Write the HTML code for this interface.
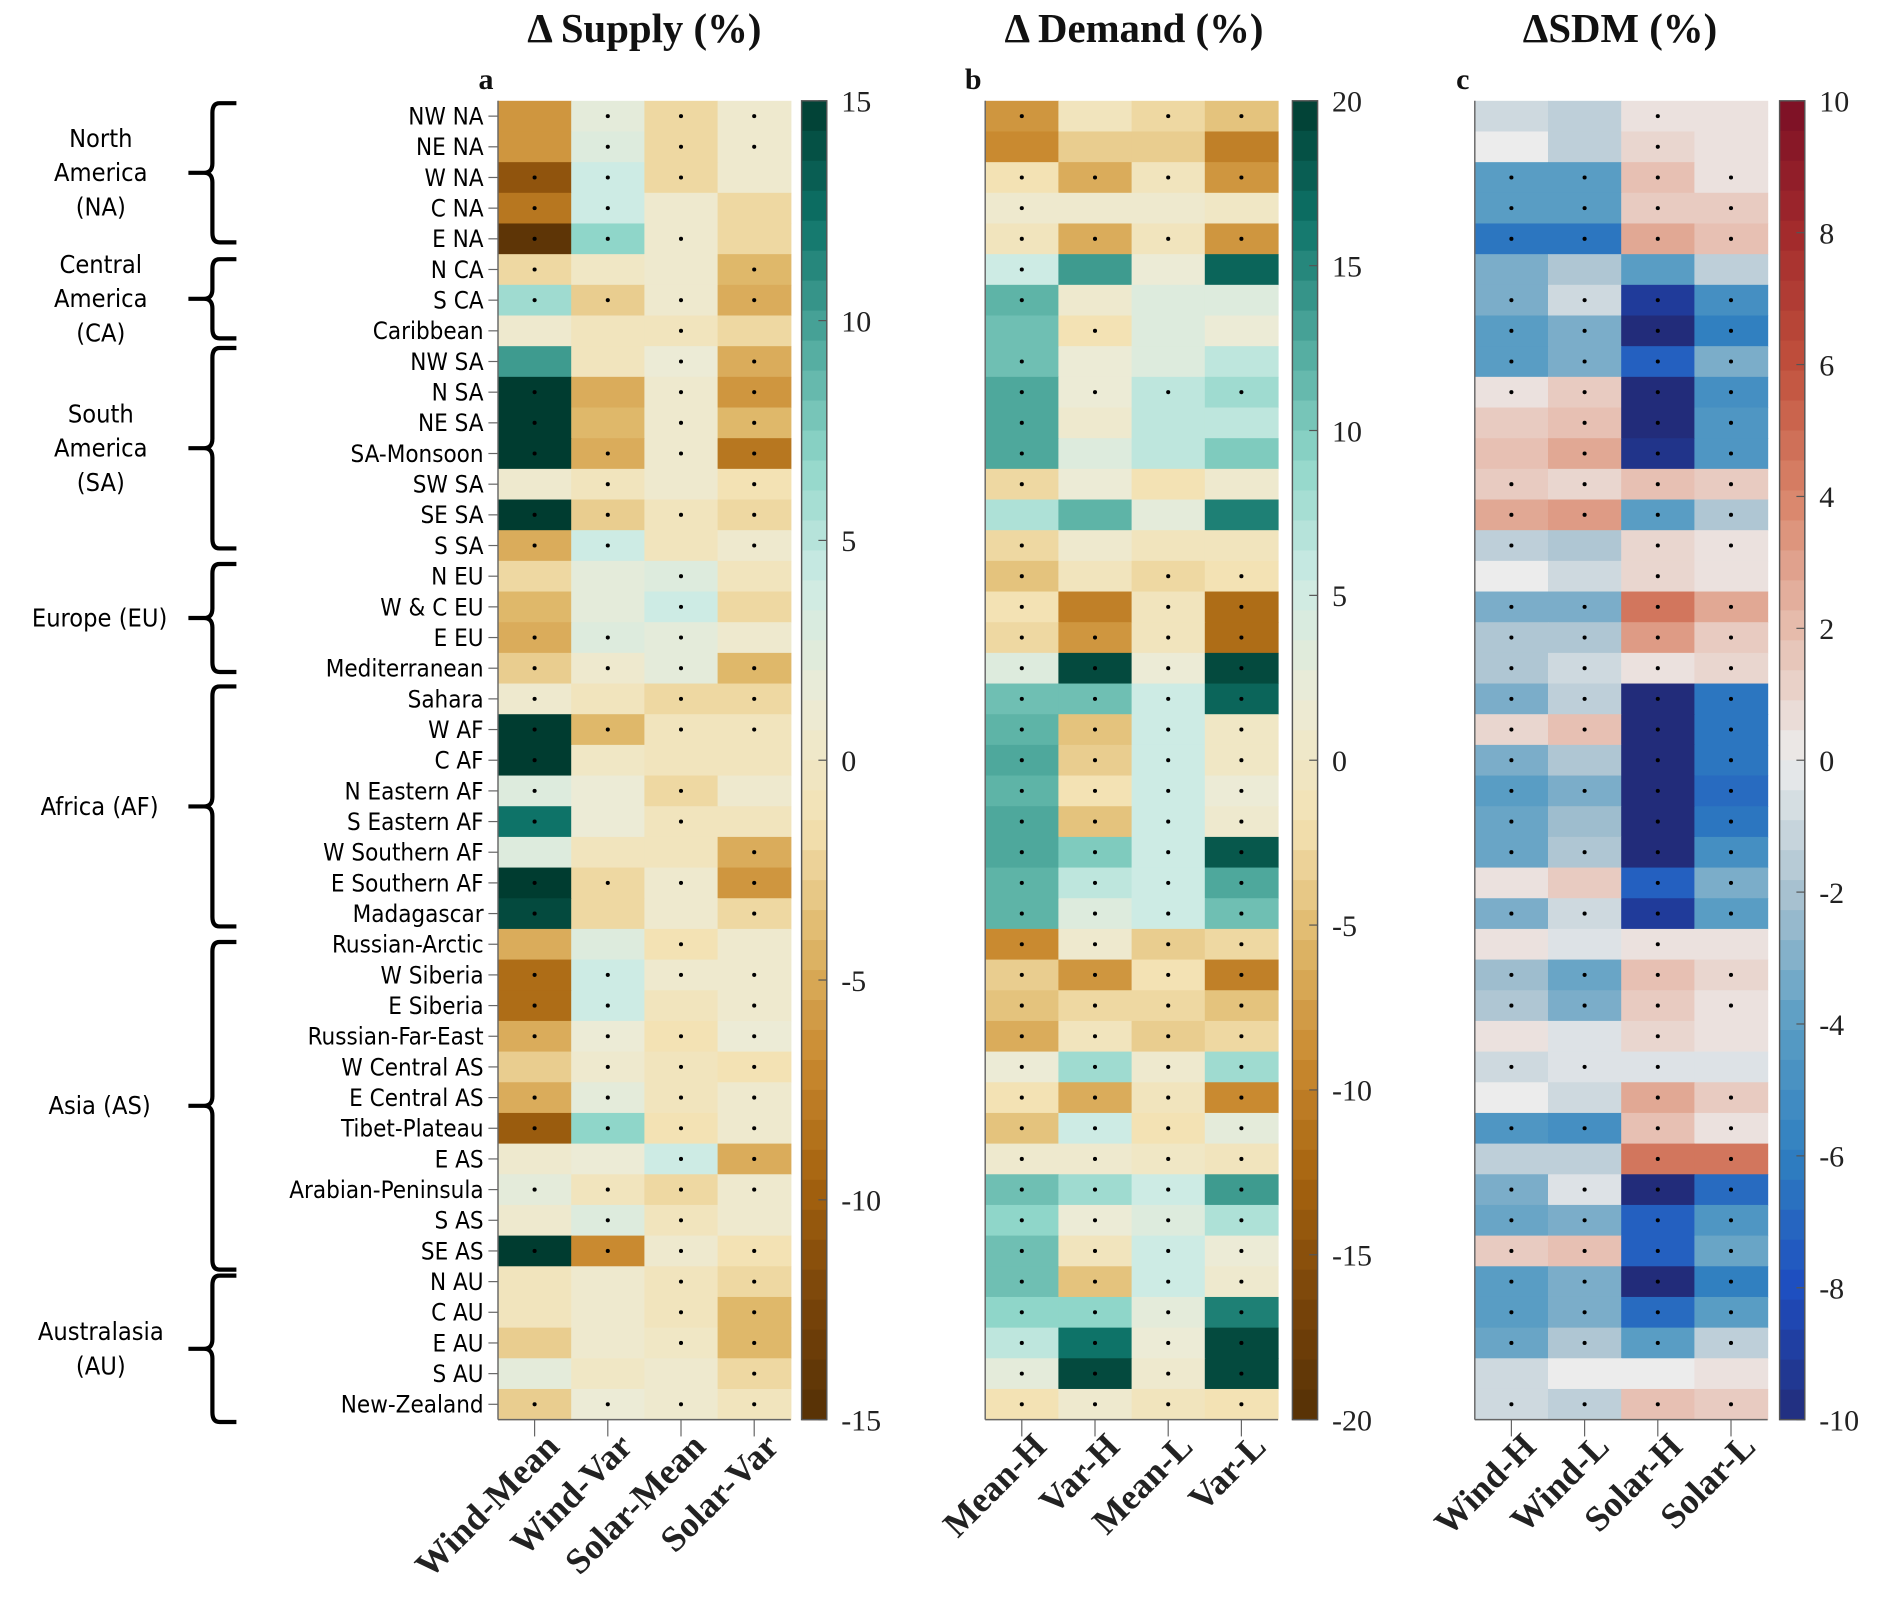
<!DOCTYPE html>
<html><head><meta charset="utf-8">
<style>
html,body{margin:0;padding:0;background:#fff;}
svg{display:block;}
.rl{font-family:"DejaVu Sans Condensed","Liberation Sans",sans-serif;font-size:20px;fill:#000;}
.gl{font-family:"DejaVu Sans Condensed","Liberation Sans",sans-serif;font-size:21px;fill:#000;}
.tk{font-family:"Liberation Serif",serif;font-size:25px;fill:#222;}
.tt{font-family:"Liberation Serif",serif;font-size:34px;font-weight:bold;fill:#111;}
.pl{font-family:"Liberation Serif",serif;font-size:25px;font-weight:bold;fill:#111;}
.xl{font-family:"Liberation Serif",serif;font-size:30px;font-weight:bold;fill:#222;}
</style></head>
<body>
<svg id="s" width="1881" height="1624" viewBox="0 0 1567.5 1353.3" preserveAspectRatio="none" xmlns="http://www.w3.org/2000/svg"></svg>
<script>
(function(){
var rows=["NW NA","NE NA","W NA","C NA","E NA","N CA","S CA","Caribbean","NW SA","N SA","NE SA","SA-Monsoon","SW SA","SE SA","S SA","N EU","W & C EU","E EU","Mediterranean","Sahara","W AF","C AF","N Eastern AF","S Eastern AF","W Southern AF","E Southern AF","Madagascar","Russian-Arctic","W Siberia","E Siberia","Russian-Far-East","W Central AS","E Central AS","Tibet-Plateau","E AS","Arabian-Peninsula","S AS","SE AS","N AU","C AU","E AU","S AU","New-Zealand"];
var A=[[-6,2,-2,1],[-6,3,-2,1],[-11,4,-2,0.5],[-8,4,0.5,-2],[-14,7,1,-2],[-2,0,0.5,-4],[6,-3,1,-5],[0.5,-0.5,-1,-2],[10,-1,1.5,-5],[15,-5,1,-6],[15,-4,1,-4],[15,-5,1,-8],[1,-1,0.5,-1.5],[15,-3,-0.5,-2],[-5,4,-0.5,1],[-2,2,2.5,-0.5],[-4,2,4,-2],[-5,3,2,0.5],[-3,1,2,-4],[0.5,-1,-2,-2],[15,-4,-1,-0.5],[15,0.2,-0.5,-1],[3,1.5,-2,1],[12,1.5,-1,-0.5],[3,-0.5,-0.5,-5],[15,-2,1,-6],[14,-2,0.5,-2],[-5,2.5,-1.5,1],[-9,4,0.5,0.5],[-9,4,-0.5,1],[-5,1.5,-1.5,1.5],[-3,0.5,-1,-1.5],[-5,2,-1,0.5],[-10,7,-1.5,0.5],[1,1.5,4,-5],[2,-1,-2,0.5],[1,2.5,-1,0.5],[15,-7,1,-1.5],[-0.5,0.5,-0.5,-2],[-0.5,0.5,-0.5,-4],[-3,0.5,0,-4],[2,0,0.5,-2],[-3,1.5,1,-0.5]];
var B=[[-8,-1,-3,-5],[-9,-4,-4,-10],[-2,-6,-1,-8],[1,0.5,0.5,0.3],[-1,-6,-1,-8],[5,14,2,17],[12,0.5,4,4],[11,-2,4,2],[11,1.5,4,6],[13,2,6,8],[13,1,6,6],[13,4,6,10],[-3,2,-2,0.5],[7,12,3,15],[-3,1,-1,-0.5],[-5,-1,-3,-2],[-2,-10,-1,-12],[-3,-8,-1,-12],[4,19,2,19],[11,11,5,17],[12,-5,5,0],[13,-4,5,0],[12,-2,5,2],[13,-5,5,0.5],[13,10,5,18],[12,6,5,13],[12,4,5,11],[-9,1,-4,-3],[-4,-8,-2,-10],[-5,-3,-3,-5],[-6,-1,-4,-3],[2,8,1,8],[-1.5,-6,-0.5,-9],[-5,5,-2,3],[0.5,0.5,0.3,-0.5],[11,8,5,14],[9,2,4,7],[11,-1,5,2],[11,-5,5,0.5],[9,9,3,15],[6,16,2,19],[3,19,1,19],[-2,0.5,-1,-1.5]];
var C=[[-1,-1.5,0.5,0.3],[0,-1.5,1,0.3],[-4,-4,2,0.5],[-4,-4,1.5,1.5],[-6.5,-6.5,2.5,2],[-3,-2,-4,-1.5],[-3,-1,-9,-5],[-4,-3,-10,-6],[-4,-3,-7.5,-3],[0.3,1.5,-10,-5],[1.5,2,-10,-4.5],[2,2.5,-9.5,-4.5],[1.5,1,2,1.5],[2.5,3,-4,-2],[-1.5,-2,1,0.5],[0.2,-1,1,0.5],[-3,-3,4.5,2.5],[-2,-2,3,1.5],[-2,-1,0.3,1],[-3,-1.5,-10,-6.5],[1,2,-10,-6.5],[-3,-2,-10,-6.5],[-4,-3,-10,-7],[-3.5,-2.5,-10,-6.5],[-3.5,-2,-10,-5],[0.3,1.5,-7.5,-3],[-3,-1,-9,-4],[0.3,-0.3,0.5,0.5],[-2.5,-3.5,2,1],[-2,-3,1.5,0.5],[0.5,-0.5,1,0.5],[-1,-0.5,-0.3,-0.3],[0.2,-1,2.5,1.5],[-4.5,-5,2,0.5],[-1.3,-1.3,4.5,4.5],[-3,-0.5,-10,-7],[-3.5,-3,-7.5,-4.5],[1.5,2,-7.5,-3.5],[-4,-3,-10,-6],[-4,-3,-7,-4],[-3.5,-2,-4,-1.5],[-1,0,0.1,0.5],[-1,-1.5,2,1.2]];
var D=["0111|1011|0010","0111|0000|0010","1110|1111|1111","1100|1000|1111","1110|1111|1111","1001|1000|0000","1111|1000|1111","0010|0100|1111","0011|1000|1111","1011|1111|1111","1011|1000|0111","1111|1000|0111","0101|1000|1111","1111|0000|1111","1101|1000|1011","0010|1011|0010","0010|1011|1111","1110|1111|1111","1111|1111|1111","1011|1111|1111","1111|1111|1111","1000|1111|1011","1010|1111|1111","1010|1111|1011","0001|1111|1111","1111|1111|0011","1001|1111|1111","0010|1111|0010","1111|1111|1111","1101|1111|1111","1111|1111|0010","0111|1111|1110","1111|1111|0011","1111|1111|1111","0011|1111|0011","1111|1111|1111","0110|1111|1111","1111|1111|1111","0011|1111|1111","0011|1111|1111","0011|1111|1111","0001|1111|0000","1111|1111|1111"];
var BRBG=["#543005","#7a450a","#a5630f","#c98a30","#dfb86a","#f3e2b4","#ecebd6","#cdebe4","#8fd6c9","#4ea89c","#0e7368","#003c30"];
var RDBU=["#222c7a","#1e4ec0","#2f7fc0","#5b9ec4","#a9c2d0","#ececec","#e6bcad","#d98469","#c0503c","#a22a2c","#7a0f25"];
function hex(h){return [parseInt(h.substr(1,2),16),parseInt(h.substr(3,2),16),parseInt(h.substr(5,2),16)];}
function cmap(stops,t){t=Math.max(0,Math.min(1,t));var n=stops.length-1;var i=Math.min(n-1,Math.floor(t*n));var f=t*n-i;var a=hex(stops[i]),b=hex(stops[i+1]);return "rgb("+a.map(function(v,k){return Math.round(v+(b[k]-v)*f);}).join(",")+")";}
var s="";
var T0=84,BOT=1183,rh=(BOT-T0)/43,cw=61;
var panels=[{x:415,data:A,lim:15,st:BRBG,cb:668,ticks:[15,10,5,0,-5,-10,-15],labs:["Wind-Mean","Wind-Var","Solar-Mean","Solar-Var"],title:"Δ Supply (%)",tx:537,letter:"a"},
{x:821,data:B,lim:20,st:BRBG,cb:1077,ticks:[20,15,10,5,0,-5,-10,-15,-20],labs:["Mean-H","Var-H","Mean-L","Var-L"],title:"Δ Demand (%)",tx:945,letter:"b"},
{x:1229,data:C,lim:10,st:RDBU,cb:1483,ticks:[10,8,6,4,2,0,-2,-4,-6,-8,-10],labs:["Wind-H","Wind-L","Solar-H","Solar-L"],title:"ΔSDM (%)",tx:1350,letter:"c"}];
panels.forEach(function(p,pi){
 for(var r=0;r<43;r++)for(var c=0;c<4;c++){
  var v=p.data[r][c];var q=Math.round(((v+p.lim)/(2*p.lim))*44)/44;
  s+='<rect x="'+(p.x+c*cw)+'" y="'+(T0+r*rh).toFixed(2)+'" width="'+(cw+0.5)+'" height="'+(rh+0.5).toFixed(2)+'" fill="'+cmap(p.st,q)+'"/>';
  if(D[r].split("|")[pi][c]=="1") s+='<circle cx="'+(p.x+c*cw+cw/2)+'" cy="'+(T0+(r+0.5)*rh).toFixed(2)+'" r="1.7" fill="#000"/>';
 }
 s+='<line x1="'+p.x+'" y1="'+T0+'" x2="'+p.x+'" y2="'+BOT+'" stroke="#666" stroke-width="1.2"/><line x1="'+p.x+'" y1="'+BOT+'" x2="'+(p.x+4*cw)+'" y2="'+BOT+'" stroke="#666" stroke-width="1.2"/>';
 for(var c2=0;c2<4;c2++){var cx=p.x+c2*cw+cw/2;s+='<line x1="'+cx+'" y1="'+BOT+'" x2="'+cx+'" y2="'+(BOT+14)+'" stroke="#666"/>';
  s+='<text class="xl" text-anchor="end" transform="translate('+(cx+22)+','+(BOT+24)+') rotate(-45)">'+p.labs[c2]+'</text>';}
 if(pi==0)for(var r2=0;r2<43;r2++){var y=T0+(r2+0.5)*rh;s+='<line x1="'+(p.x-8)+'" y1="'+y+'" x2="'+p.x+'" y2="'+y+'" stroke="#666"/><text class="rl" x="'+(p.x-12)+'" y="'+(y+7)+'" text-anchor="end">'+rows[r2].replace(/&/g,"&amp;")+'</text>';}
 var n=44,h=(BOT-T0)/n;
 for(var i=0;i<n;i++){s+='<rect x="'+p.cb+'" y="'+(T0+i*h).toFixed(2)+'" width="21" height="'+(h+0.5).toFixed(2)+'" fill="'+cmap(p.st,1-(i+0.5)/n)+'"/>';}
 s+='<rect x="'+p.cb+'" y="'+T0+'" width="21" height="'+(BOT-T0)+'" fill="none" stroke="#555" stroke-width="1.2"/>';
 p.ticks.forEach(function(t){var yy=T0+(p.lim-t)/(2*p.lim)*(BOT-T0);s+='<line x1="'+(p.cb+14)+'" y1="'+yy+'" x2="'+(p.cb+21)+'" y2="'+yy+'" stroke="#555"/><text class="tk" x="'+(p.cb+33)+'" y="'+(yy+9)+'">'+t+'</text>';});
 s+='<text class="tt" x="'+p.tx+'" y="35" text-anchor="middle">'+p.title+'</text><text class="pl" x="'+(p.x-10)+'" y="74" text-anchor="middle">'+p.letter+'</text>';
});
var groups=[[86,202,["North","America","(NA)"]],[216,282,["Central","America","(CA)"]],[290,457,["South","America","(SA)"]],[470,560,["Europe (EU)"]],[572,772,["Africa (AF)"]],[785,1058,["Asia (AS)"]],[1063,1185,["Australasia","(AU)"]]];
groups.forEach(function(g){var y1=g[0],y2=g[1],l=g[2];var m=(y1+y2)/2;
 s+='<path d="M197 '+y1+' L183 '+y1+' Q177 '+y1+' 177 '+(y1+8)+' L177 '+(m-8)+' Q177 '+m+' 170 '+m+' L157 '+m+' L170 '+m+' Q177 '+m+' 177 '+(m+8)+' L177 '+(y2-8)+' Q177 '+y2+' 183 '+y2+' L197 '+y2+'" fill="none" stroke="#000" stroke-width="3.5"/>';
 var lh=28.5;var y0=m-(l.length-1)*lh/2;
 l.forEach(function(t,i){s+='<text class="gl" x="'+(l.length==1?83:84)+'" y="'+(y0+i*lh+7)+'" text-anchor="middle">'+t+'</text>';});
});
document.getElementById("s").innerHTML=s;
})();
</script>
</body></html>
